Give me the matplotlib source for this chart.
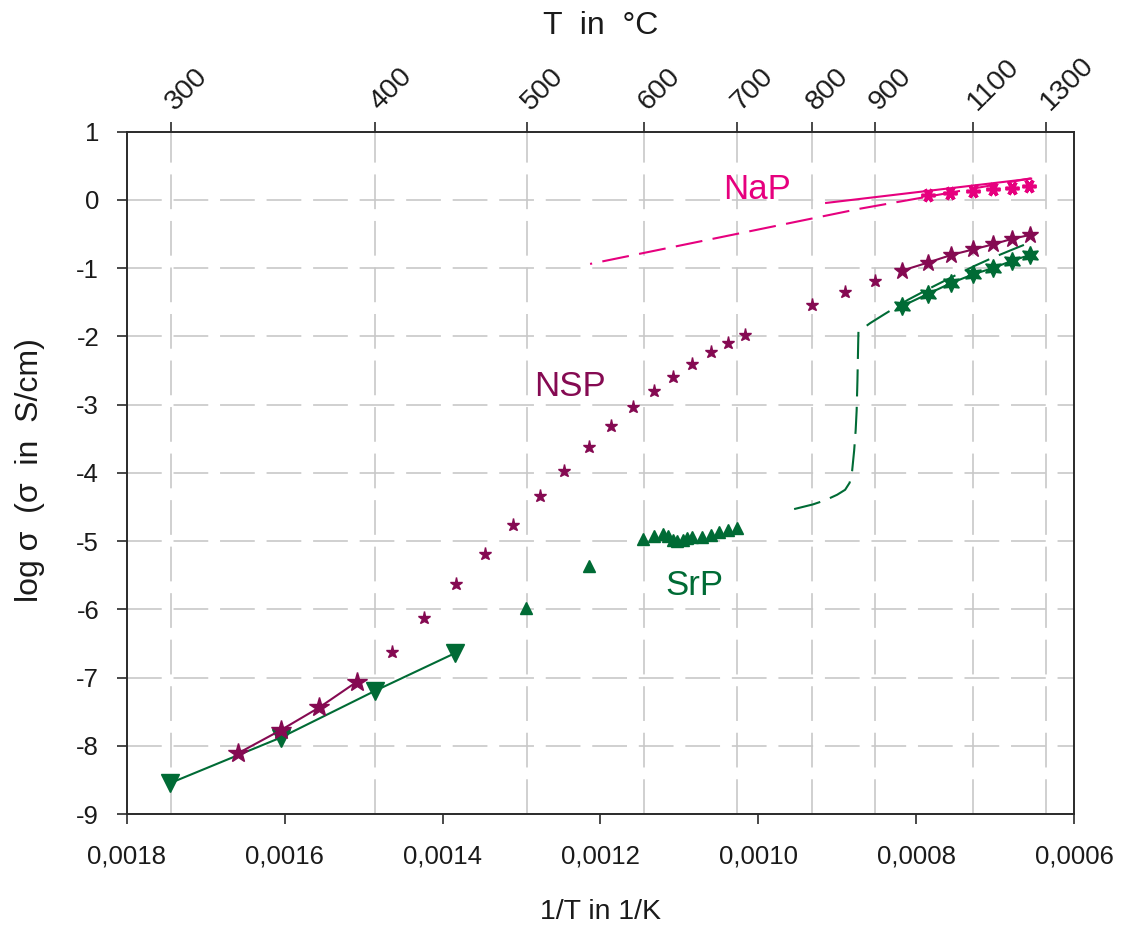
import matplotlib
matplotlib.use("Agg")
import matplotlib.pyplot as plt
from matplotlib.transforms import offset_copy
import numpy as np

plt.rcParams['font.family'] = ['Liberation Sans', 'DejaVu Sans']
plt.rcParams['lines.scale_dashes'] = False

# ---- data: 1/T in 1/K, log sigma in S/cm ----
# NaP
nap_x = [0.0007844, 0.0007569, 0.0007274, 0.0007028, 0.0006787, 0.0006565]
nap_y = [0.07, 0.10, 0.13, 0.16, 0.17, 0.20]
nap_fit_x = [0.00091409, 0.00065427]
nap_fit_y = [-0.044, 0.312]
nap_dash_x = [0.0012132, 0.000871, 0.00065465]
nap_dash_y = [-0.938, -0.128, 0.317]

# NSP, low temperature run
nsp_low_x = [0.001659, 0.0016052, 0.0015563, 0.0015089]
nsp_low_y = [-8.108, -7.771, -7.438, -7.063]
# NSP, heating run
nsp_scan_x = [0.0014645, 0.0014232, 0.001383, 0.0013459, 0.0013104, 0.0012766,
              0.0012458, 0.0012148, 0.001187, 0.0011587, 0.0011321, 0.0011076,
              0.0010835, 0.0010602, 0.0010379, 0.0010167, 0.0009318, 0.0008906,
              0.0008526]
nsp_scan_y = [-6.619, -6.129, -5.630, -5.191, -4.765, -4.346, -3.969, -3.622,
              -3.320, -3.041, -2.806, -2.595, -2.410, -2.234, -2.103, -1.975,
              -1.540, -1.345, -1.183]
# NSP, high temperature run
nsp_high_x = [0.000818, 0.0007853, 0.0007554, 0.000728, 0.0007023, 0.000679, 0.0006555]
nsp_high_y = [-1.037, -0.919, -0.806, -0.726, -0.650, -0.572, -0.512]

# SrP, low temperature run
srp_low_x = [0.0017455, 0.0016052, 0.0014857, 0.0013843]
srp_low_y = [-8.548, -7.880, -7.195, -6.642]
# SrP, heating run
srp_scan_x = [0.0012943, 0.0012148, 0.0011456, 0.0011321, 0.0011203, 0.001114,
              0.0011084, 0.0011025, 0.0010957, 0.0010899, 0.0010835, 0.0010716,
              0.0010602, 0.0010493, 0.0010379, 0.0010273]
srp_scan_y = [-5.982, -5.362, -4.971, -4.927, -4.897, -4.922, -4.981, -5.006,
              -4.981, -4.962, -4.947, -4.937, -4.908, -4.874, -4.839, -4.801]
# SrP, high temperature run
srp_high_x = nsp_high_x
srp_high_y = [-1.557, -1.378, -1.217, -1.091, -0.997, -0.894, -0.805]
# SrP, transition curve
srp_curve_x = [0.00095464, 0.00093094, 0.00091535, 0.00090015, 0.00089, 0.0008843,
               0.00088113, 0.0008786, 0.0008767, 0.00087543, 0.00087442, 0.00087353,
               0.00087315, 0.00085832, 0.00083982, 0.00081016, 0.0007781, 0.00074844,
               0.00072525, 0.00070205, 0.00067835, 0.00065554]
srp_curve_y = [-4.531, -4.463, -4.402, -4.321, -4.248, -4.145, -3.969, -3.676,
               -3.383, -3.090, -2.650, -2.136, -1.931, -1.806, -1.672, -1.462,
               -1.267, -1.095, -0.963, -0.842, -0.729, -0.622]

# axis ticks
bottom_ticks = [0.0018, 0.0016, 0.0014, 0.0012, 0.0010, 0.0008, 0.0006]
bottom_labels = ['0,0018', '0,0016', '0,0014', '0,0012', '0,0010', '0,0008', '0,0006']
top_ticks_c = [300, 400, 500, 600, 700, 800, 900, 1100, 1300]
y_ticks = list(range(-9, 2))

C_NAP = '#E6007E'
C_NSP = '#850A52'
C_SRP = '#006B35'
GRID = '#C8C8C8'
SPINE = '#2A2A2A'
TXT = '#1A1A1A'

fig = plt.figure(figsize=(11.31, 9.40), dpi=100)
ax = fig.add_axes([0.11229, 0.13404, 0.83731, 0.72585])

top_pos = [1.0 / (t + 273.15) for t in top_ticks_c]

ax.set_xlim(0.0018, 0.0006)
ax.set_ylim(-9, 1)
ax.set_xticks(bottom_ticks)
ax.set_xticklabels(bottom_labels)
ax.set_xticks(top_pos, minor=True)
ax.set_yticks(y_ticks)
ax.set_yticklabels([str(v) for v in y_ticks])
ax.set_axisbelow(True)
ax.grid(True, which='major', axis='y', color=GRID, lw=1.2, linestyle=(0, (25, 8.5)))
ax.grid(True, which='minor', axis='x', color=GRID, lw=1.2, linestyle=(0, (25, 8.5)))
ax.tick_params(axis='x', which='minor', length=0)
ax.tick_params(axis='both', which='major', direction='out', length=7, width=1.2,
               color=SPINE, labelsize=18.5, labelcolor=TXT)
ax.tick_params(axis='x', which='major', pad=15)
ax.tick_params(axis='y', which='major', pad=13)
for s in ax.spines.values():
    s.set_color(SPINE)
    s.set_linewidth(1.2)

dash = (0, (19.5, 7.5))

# NaP
ax.plot(nap_dash_x, nap_dash_y, color=C_NAP, lw=1.5, linestyle=(18.0, (19.5, 7.5)))
ax.plot(nap_fit_x, nap_fit_y, color=C_NAP, lw=1.5)
ax.plot(nap_x, nap_y, linestyle='none', marker=(6, 2, 90), ms=10, mew=2.6,
        color=C_NAP)

# SrP
ax.plot(srp_curve_x, srp_curve_y, color=C_SRP, lw=1.5, linestyle=dash)
ax.plot(srp_low_x, srp_low_y, color=C_SRP, lw=1.5, marker='v', ms=13,
        mec=C_SRP, mfc=C_SRP)
ax.plot(srp_scan_x, srp_scan_y, linestyle='none', marker='^', ms=8.5, color=C_SRP)
ax.plot(srp_high_x, srp_high_y, color=C_SRP, lw=1.5, marker=(6, 1, 0), ms=13,
        mec=C_SRP, mfc=C_SRP)

# NSP
ax.plot(nsp_low_x, nsp_low_y, color=C_NSP, lw=1.5, marker='*', ms=15,
        mec=C_NSP, mfc=C_NSP)
ax.plot(nsp_scan_x, nsp_scan_y, linestyle='none', marker='*', ms=9.5, color=C_NSP)
ax.plot(nsp_high_x, nsp_high_y, color=C_NSP, lw=1.5, marker='*', ms=12.5,
        mec=C_NSP, mfc=C_NSP)

# series names
ax.text(0.0010015, 0.015, 'NaP', color=C_NAP, fontsize=25, ha='center', va='baseline')
ax.text(0.0012385, -2.87, 'NSP', color=C_NSP, fontsize=25, ha='center', va='baseline')
ax.text(0.0010814, -5.79, 'SrP', color=C_SRP, fontsize=25, ha='center', va='baseline')

# temperature axis on top
ax2 = ax.twiny()
ax2.set_xlim(ax.get_xlim())
ax2.set_xticks(top_pos)
ax2.set_xticklabels([])
ax2.tick_params(axis='x', direction='out', length=7, width=1.2, color=SPINE)
for s in ax2.spines.values():
    s.set_color(SPINE)
    s.set_linewidth(1.2)
top_label_tr = offset_copy(ax.get_xaxis_transform(), fig=fig, x=4, y=21, units='dots')
for pos, t in zip(top_pos, top_ticks_c):
    ax.text(pos, 1.0, str(t), transform=top_label_tr, rotation=45,
            rotation_mode='anchor', ha='left', va='baseline', fontsize=20.5,
            color=TXT, clip_on=False)

fig.text(600.5 / 1131, 1 - 26 / 940, 'T  in  °C', fontsize=23, ha='center', va='center',
         color=TXT)
fig.text(600.5 / 1131, 1 - 912 / 940, '1/T in 1/K', fontsize=20.5, ha='center',
         va='center', color=TXT)
fig.text(30 / 1131, 1 - 470 / 940, 'log σ  (σ  in  S/cm)', fontsize=23, ha='center',
         va='center', rotation=90, color=TXT)

fig.savefig('out.png', dpi=100)
